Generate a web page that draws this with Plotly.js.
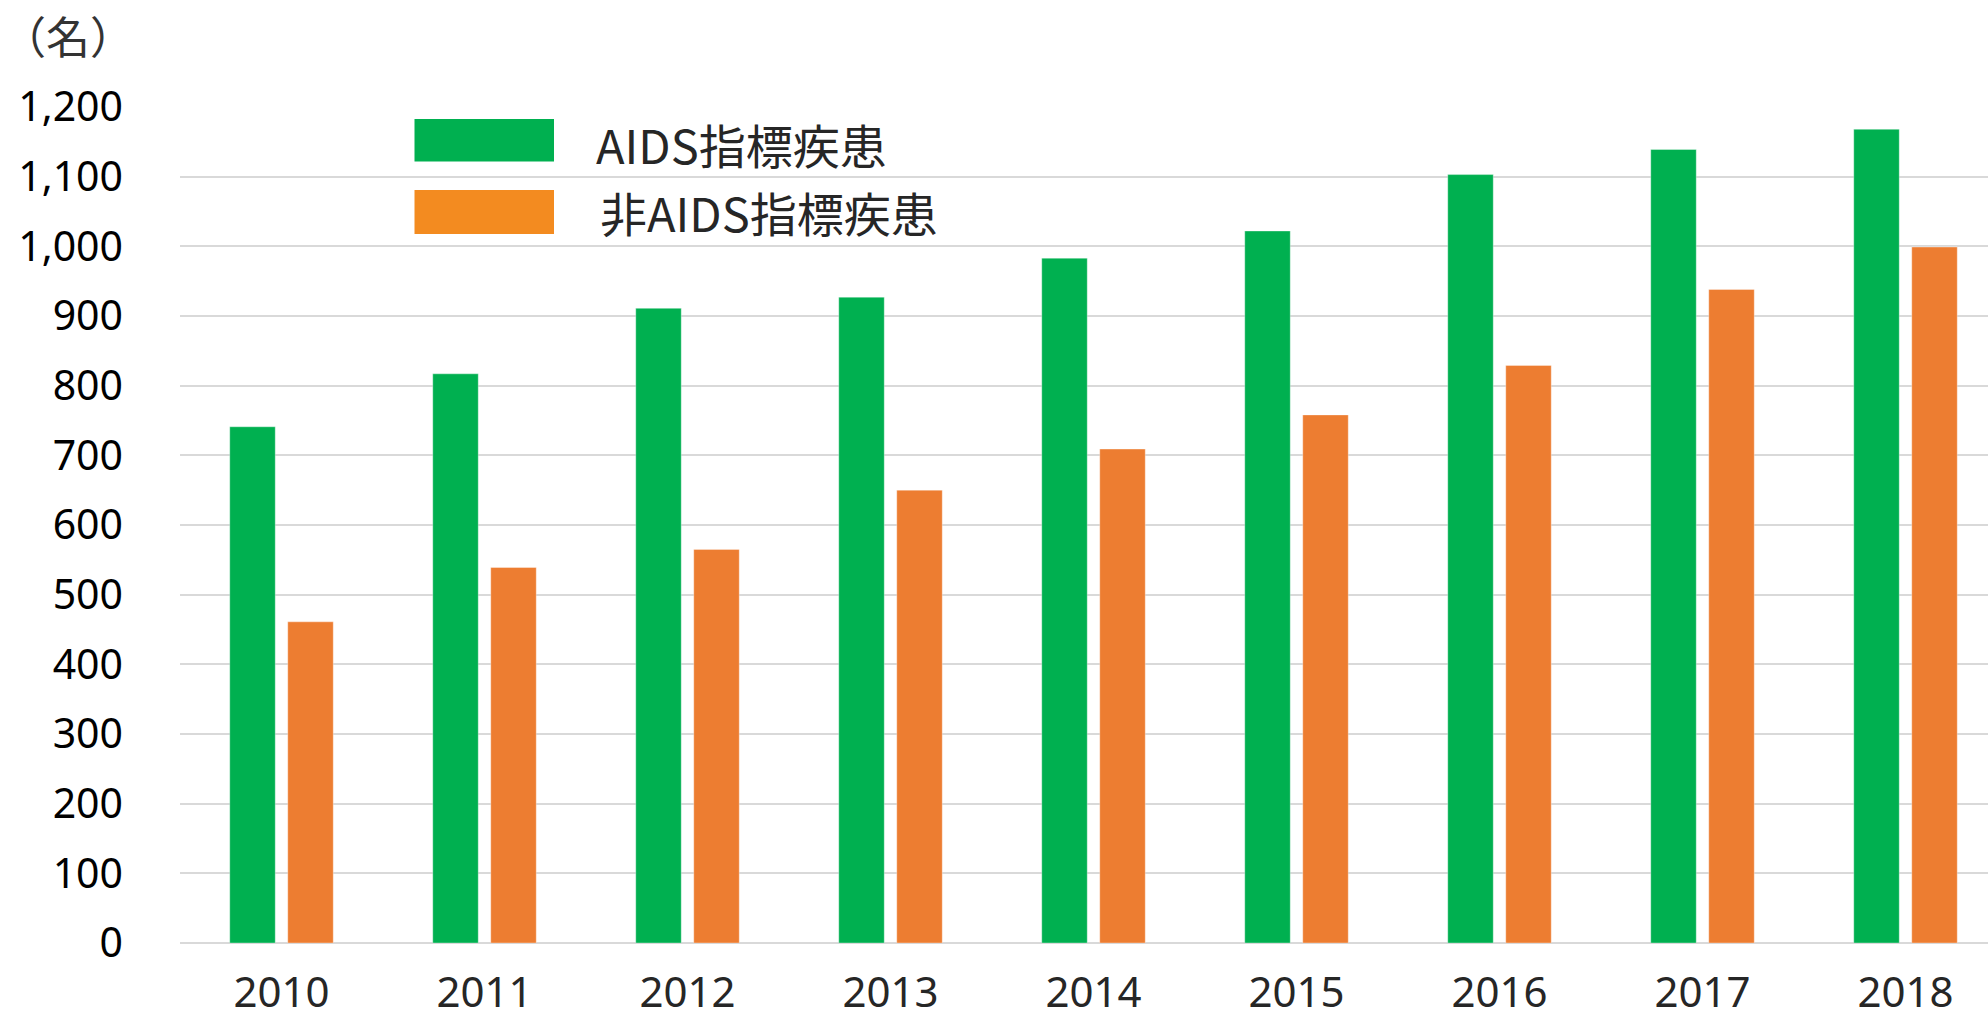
<!DOCTYPE html>
<html>
<head>
<meta charset="utf-8">
<script src="https://cdn.plot.ly/plotly-3.0.1.min.js"></script>
<style>
  html, body { margin: 0; padding: 0; background: #ffffff; }
  #chart { width: 1988px; height: 1021px; }
</style>
</head>
<body>
<div id="chart"></div>
<script>
// ---- data ----
const years = ['2010', '2011', '2012', '2013', '2014', '2015', '2016', '2017', '2018'];
const aidsIndicator = [741, 817, 911, 927, 983, 1022, 1103, 1139, 1168];
const nonAidsIndicator = [461, 539, 565, 650, 709, 758, 829, 938, 999];
const seriesNames = ['AIDS指標疾患', '非AIDS指標疾患'];
const unitLabel = '（名）';
const yTickVals = [0, 100, 200, 300, 400, 500, 600, 700, 800, 900, 1000, 1100, 1200];
const yTickText = ['0', '100', '200', '300', '400', '500', '600', '700', '800', '900', '1,000', '1,100', '1,200'];

// ---- styles ----
const GREEN = '#00B050';
const ORANGE = '#ED7D31';
const LEGEND_ORANGE = '#F38B20';
const CJK = '"Noto Sans CJK JP", "Noto Sans", sans-serif';
const LATIN = '"Noto Sans", "Open Sans", sans-serif';

const W = 1988, H = 1021;
const M = { l: 180, r: 0, t: 107, b: 78 };
const plotW = W - M.l - M.r;
const plotH = H - M.t - M.b;
const px = x => (x - M.l) / plotW;          // page x -> paper x
const py = y => (H - M.b - y) / plotH;      // page y -> paper y
const catStep = 203;                         // pixels per category

const traces = [
  {
    type: 'bar', name: seriesNames[0], x: years, y: aidsIndicator,
    marker: { color: GREEN, line: { color: 'rgba(255,255,255,0.35)', width: 1 } },
    showlegend: false, hoverinfo: 'x+y+name'
  },
  {
    type: 'bar', name: seriesNames[1], x: years, y: nonAidsIndicator,
    marker: { color: ORANGE, line: { color: 'rgba(255,255,255,0.35)', width: 1 } },
    showlegend: false, hoverinfo: 'x+y+name'
  }
];

const layout = {
  width: W, height: H,
  margin: M,
  paper_bgcolor: '#ffffff', plot_bgcolor: '#ffffff',
  barmode: 'group',
  bargap: 0.4286,
  bargroupgap: 0.2155,
  showlegend: false,
  font: { family: LATIN, color: '#000000' },
  xaxis: {
    type: 'category',
    range: [-0.5, -0.5 + plotW / catStep],
    showgrid: false, zeroline: false, showline: false,
    ticks: '',
    ticklabelstandoff: 21,
    tickfont: { family: LATIN, size: 42, color: '#262626' },
    fixedrange: true
  },
  yaxis: {
    range: [0, 1200],
    tickvals: yTickVals, ticktext: yTickText,
    showgrid: true, gridcolor: '#D9D9D9', gridwidth: 2,
    zeroline: true, zerolinecolor: '#D9D9D9', zerolinewidth: 2,
    showline: false, ticks: '',
    ticklabelstandoff: 56,
    tickfont: { family: LATIN, size: 41, color: '#000000' },
    fixedrange: true
  },
  shapes: [
    { type: 'rect', xref: 'paper', yref: 'paper', layer: 'above',
      x0: px(414.5), x1: px(554), y0: py(161.5), y1: py(119),
      fillcolor: GREEN, line: { width: 0 } },
    { type: 'rect', xref: 'paper', yref: 'paper', layer: 'above',
      x0: px(414.5), x1: px(554), y0: py(234), y1: py(190),
      fillcolor: LEGEND_ORANGE, line: { width: 0 } }
  ],
  annotations: [
    { text: unitLabel, xref: 'paper', yref: 'paper', x: px(0), y: py(35),
      xanchor: 'left', yanchor: 'middle', showarrow: false,
      font: { family: CJK, size: 44, color: '#333333' } },
    { text: seriesNames[0], xref: 'paper', yref: 'paper', x: px(594), y: py(143),
      xanchor: 'left', yanchor: 'middle', showarrow: false,
      font: { family: CJK, size: 47, color: '#262626' } },
    { text: seriesNames[1], xref: 'paper', yref: 'paper', x: px(598), y: py(211),
      xanchor: 'left', yanchor: 'middle', showarrow: false,
      font: { family: CJK, size: 47, color: '#262626' } }
  ]
};

Plotly.newPlot('chart', traces, layout, { displayModeBar: false, staticPlot: true });
</script>
</body>
</html>
